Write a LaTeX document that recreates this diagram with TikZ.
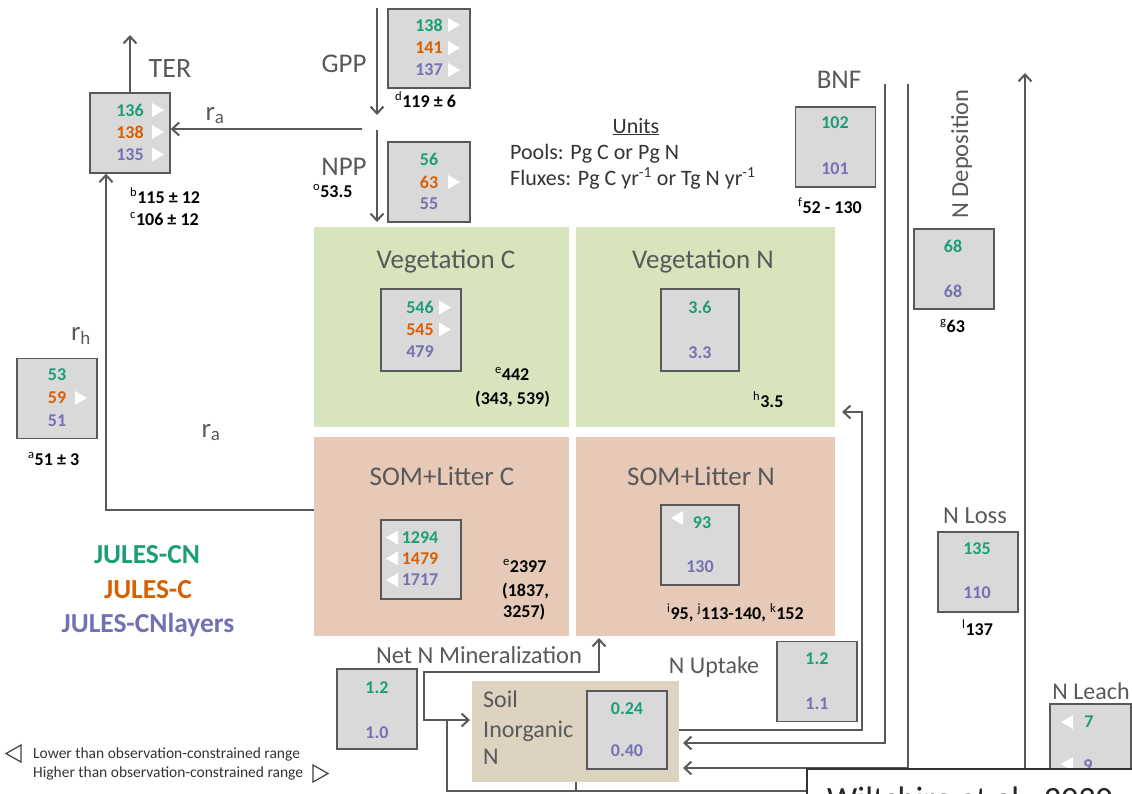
\documentclass[tikz,border=0pt]{standalone}
\usepackage{fontspec}
\setmainfont{Carlito}
\usetikzlibrary{arrows.meta}
\definecolor{cngreen}{HTML}{1B9E77}
\definecolor{cnorange}{HTML}{D95F02}
\definecolor{cnpurple}{HTML}{7570B3}
\definecolor{labgray}{HTML}{595959}
\definecolor{boxfill}{HTML}{D9D9D9}
\definecolor{boxline}{HTML}{595959}
\definecolor{vegfill}{HTML}{D8E4BC}
\definecolor{somfill}{HTML}{E6C9B7}
\definecolor{soilfill}{HTML}{DED2C1}
\newcommand\setfs[1]{\fontsize{#1}{#1}\selectfont}
% white markers: above / below the observation-constrained range
\newcommand\hightri[2]{\fill[white] (#1,#2) ++(0,-7) -- ++(12,7) -- ++(-12,7) -- cycle;}
\newcommand\lowtri[2]{\fill[white] (#1,#2) ++(0,-7) -- ++(-12,7) -- ++(12,7) -- cycle;}
\newcommand\sups[1]{\textsuperscript{\mdseries #1}}
\begin{document}
\begin{tikzpicture}[x=1pt,y=-1pt,
  valbox/.style={draw=boxline,fill=boxfill,line width=1.4pt,minimum width=80pt,minimum height=80pt,inner sep=0pt},
  panel/.style={inner sep=0pt,draw=none},
  num/.style={font=\setfs{18}\bfseries,inner sep=0pt},
  cn/.style={num,text=cngreen},
  co/.style={num,text=cnorange},
  cl/.style={num,text=cnpurple},
  lab/.style={text=labgray,inner sep=0pt,anchor=base},
  cite/.style={font=\setfs{18}\bfseries,text=black,inner sep=0pt,anchor=base west},
  keylab/.style={font=\setfs{27.5}\bfseries,inner sep=0pt,anchor=base},
  barb/.tip={Straight Barb[length=7pt,width=13pt]},
  flow/.style={draw=labgray,line width=2pt,-barb},
  pipe/.style={draw=labgray,line width=2pt},
]
\useasboundingbox (0,0) rectangle (1132,793);

% ---------- pools ----------
\node[panel,fill=vegfill,minimum width=255pt,minimum height=200pt] (vegC) at (441.5,327) {};
\node[panel,fill=vegfill,minimum width=259pt,minimum height=200pt] (vegN) at (705.5,327) {};
\node[panel,fill=somfill,minimum width=255pt,minimum height=199pt] (somC) at (441.5,536.5) {};
\node[panel,fill=somfill,minimum width=259pt,minimum height=199pt] (somN) at (705.5,536.5) {};
\node[panel,fill=soilfill,minimum width=207pt,minimum height=101pt] (soil) at (575.5,731.5) {};

% ---------- value boxes ----------
\node[valbox] (terbox) at (130,133) {};
\node[valbox,minimum width=82pt,minimum height=79pt] (gppbox) at (429,48.5) {};
\node[valbox,minimum width=82pt] (nppbox) at (429,182) {};
\node[valbox,minimum height=82pt] (vegCbox) at (421,330) {};
\node[valbox,minimum width=78pt,minimum height=82pt] (vegNbox) at (700,330) {};
\node[valbox,minimum height=79pt] (somCbox) at (421,559.5) {};
\node[valbox,minimum width=78pt] (somNbox) at (700,545) {};
\node[valbox] (rhbox) at (57,398.5) {};
\node[valbox] (minbox) at (377,709) {};
\node[valbox,minimum height=78pt] (soilbox) at (627,730) {};
\node[valbox] (uptbox) at (817,681.5) {};
\node[valbox] (bnfbox) at (835.5,147) {};
\node[valbox] (depbox) at (954,269) {};
\node[valbox] (lossbox) at (978,572) {};
\node[valbox,minimum width=81pt,minimum height=100pt] (leachbox) at (1090.5,754) {};

% ---------- carbon fluxes ----------
\coordinate (terTop) at (130,35);
\draw[flow] (terbox.north) -- (terTop);
\coordinate (raSplit) at (362,129);
\draw[flow] (raSplit) -- (raSplit -| terbox.east);
\coordinate (gppIn) at (377,8);
\coordinate (gppOut) at (377,115);
\draw[flow] (gppIn) -- (gppOut);
\coordinate (nppIn) at (377,130);
\coordinate (nppOut) at (377,222);
\draw[flow] (nppIn) -- (nppOut);
\coordinate (rhStart) at (somC.west |- 0,510);
\coordinate (rhCorner) at (106,510);
\draw[flow] (rhStart) -- (rhCorner) -- (rhCorner |- terbox.south);

% ---------- nitrogen fluxes ----------
\coordinate (minTip) at (599,638);
\coordinate (minTop) at (599,672);
\coordinate (minLeft) at (424,672);
\coordinate (minLow) at (424,720);
\coordinate (minIn) at (470,720);
\draw[pipe,barb-barb] (minTip) -- (minTop) -- (minLeft) -- (minLow) -- (minIn);
\coordinate (retTop) at (447,720);
\coordinate (retBot) at (447,791);
\coordinate (outEnd) at (807,791);
\draw[pipe] (retTop) -- (retBot) -- (outEnd);
\coordinate (soilDown) at (576,791);
\draw[pipe] (soilDown |- soil.south) -- (soilDown);

\coordinate (uptA) at (679,730);
\coordinate (uptB) at (862,730);
\coordinate (uptC) at (862,412);
\coordinate (uptTip) at (842,412);
\draw[flow] (uptA) -- (uptB) -- (uptC) -- (uptTip);

\coordinate (bnfTop) at (885,84);
\coordinate (bnfBend) at (885,743);
\coordinate (bnfTip) at (683,743);
\draw[flow] (bnfTop) -- (bnfBend) -- (bnfTip);

\coordinate (depTop) at (908,84);
\coordinate (depBend) at (908,768);
\coordinate (depTip) at (683,768);
\draw[flow] (depTop) -- (depBend) -- (depTip);

\coordinate (lossBot) at (1025,769);
\coordinate (lossTip) at (1025,73);
\draw[flow] (lossBot) -- (lossTip);

% ---------- values ----------
\node[cn] (ter1) at (130,110) {136};
\node[co] (ter2) at (130,132) {138};
\node[cl] (ter3) at (130,154.5) {135};
\hightri{152}{110}\hightri{152}{132}\hightri{152}{154.5}

\node[cn] (gpp1) at (429,25) {138};
\node[co] (gpp2) at (429,48) {141};
\node[cl] (gpp3) at (429,70) {137};
\hightri{448}{25}\hightri{448}{48}\hightri{448}{70}

\node[cn] (npp1) at (429,159) {56};
\node[co] (npp2) at (429,182) {63};
\node[cl] (npp3) at (429,204) {55};
\hightri{448}{182}

\node[cn] (vc1) at (420,307.5) {546};
\node[co] (vc2) at (420,329.5) {545};
\node[cl] (vc3) at (420,351.5) {479};
\hightri{439}{307.5}\hightri{439}{329.5}

\node[cn] (vn1) at (700,307.5) {3.6};
\node[cl] (vn2) at (700,352.5) {3.3};

\node[cn] (sc1) at (420,537.5) {1294};
\node[co] (sc2) at (420,558.5) {1479};
\node[cl] (sc3) at (420,580) {1717};
\lowtri{398}{537.5}\lowtri{398}{558.5}\lowtri{398}{580}

\node[cn] (sn1) at (702,522.5) {93};
\node[cl] (sn2) at (700,566.5) {130};
\lowtri{683}{518}

\node[cn] (rh1) at (57,375) {53};
\node[co] (rh2) at (57,398) {59};
\node[cl] (rh3) at (57,421) {51};
\hightri{75}{398}

\node[cn] (mn1) at (377,688) {1.2};
\node[cl] (mn2) at (377,732.5) {1.0};

\node[cn] (si1) at (627,708.5) {0.24};
\node[cl] (si2) at (627,751) {0.40};

\node[cn] (up1) at (817,658.5) {1.2};
\node[cl] (up2) at (817,704) {1.1};

\node[cn] (bn1) at (835,123) {102};
\node[cl] (bn2) at (835,168.5) {101};

\node[cn] (dp1) at (953,246.5) {68};
\node[cl] (dp2) at (953,291.5) {68};

\node[cn] (ls1) at (977,548.5) {135};
\node[cl] (ls2) at (977,593) {110};

\node[cn] (lc1) at (1089,722) {7};
\node[cl] (lc2) at (1088,765.5) {9};
\lowtri{1073}{722}\lowtri{1073}{764}

% ---------- flux and pool labels ----------
\node[lab,font=\setfs{28}] (terlab) at (170,77) {TER};
\node[lab,font=\setfs{27}] (gpplab) at (344,72) {GPP};
\node[lab,font=\setfs{27}] (npplab) at (344,175) {NPP};
\node[lab,font=\setfs{27}] (ralab) at (215,120) {r\textsubscript{a}};
\node[lab,font=\setfs{27}] (rhlab) at (81,340) {r\textsubscript{h}};
\node[lab,font=\setfs{27}] (ralab2) at (211,437) {r\textsubscript{a}};
\node[lab,font=\setfs{27}] (bnflab) at (839,88) {BNF};
\node[lab,font=\setfs{24.5},rotate=90] (deplab) at (968,154) {N Deposition};
\node[lab,font=\setfs{27}] (vclab) at (446,268) {Vegetation C};
\node[lab,font=\setfs{27}] (vnlab) at (703,268) {Vegetation N};
\node[lab,font=\setfs{27}] (sclab) at (442,485) {SOM+Litter C};
\node[lab,font=\setfs{27}] (snlab) at (701,485) {SOM+Litter N};
\node[lab,font=\setfs{24.5}] (minlab) at (479,663) {Net N Mineralization};
\node[lab,font=\setfs{24}] (uptlab) at (714,673) {N Uptake};
\node[lab,font=\setfs{24.5}] (losslab) at (975,523) {N Loss};
\node[lab,font=\setfs{24}] (leachlab) at (1091,699) {N Leach};
\node[lab,font=\setfs{24},anchor=base west] (soil1) at (483,707) {Soil};
\node[lab,font=\setfs{24},anchor=base west] (soil2) at (483,737) {Inorganic};
\node[lab,font=\setfs{24},anchor=base west] (soil3) at (483,764) {N};

% ---------- units ----------
\node[font=\setfs{22},text=black!80,inner sep=0pt,anchor=base] (units) at (636,133) {\underline{Units}};
\node[font=\setfs{22},text=black!80,inner sep=0pt,anchor=base west] (pools) at (510,159) {Pools: Pg C or Pg N};
\node[font=\setfs{22},text=black!80,inner sep=0pt,anchor=base west] (fluxes) at (510,185) {Fluxes: Pg C yr\textsuperscript{-1} or Tg N yr\textsuperscript{-1}};

% ---------- observational estimates ----------
\node[cite] (obsb) at (130,203) {\sups{b}115 ± 12};
\node[cite] (obsc) at (130,225) {\sups{c}106 ± 12};
\node[cite] (obsd) at (395,107) {\sups{d}119 ± 6};
\node[cite] (obso) at (313,197) {\sups{o}53.5};
\node[cite] (obsf) at (798,213) {\sups{f}52 - 130};
\node[cite] (obsg) at (940,332) {\sups{g}63};
\node[cite] (obse1) at (495,380) {\sups{e}442};
\node[cite] (obse1r) at (475,404) {(343, 539)};
\node[cite] (obsh) at (753,407) {\sups{h}3.5};
\node[cite] (obsa) at (28,465) {\sups{a}51 ± 3};
\node[cite] (obse2) at (503,572) {\sups{e}2397};
\node[cite] (obse2a) at (502,596) {(1837,};
\node[cite] (obse2b) at (503,617) {3257)};
\node[cite] (obsijk) at (667,619) {\sups{i}95, \sups{j}113-140, \sups{k}152};
\node[cite] (obsl) at (962,635) {\sups{l}137};

% ---------- model key ----------
\node[keylab,text=cngreen] (keycn) at (147,563) {JULES-CN};
\node[keylab,text=cnorange] (keyc) at (148,598) {JULES-C};
\node[keylab,text=cnpurple] (keycnl) at (148,632) {JULES-CNlayers};

% ---------- marker key ----------
\draw[black!75,line width=1.2pt,line join=miter] (21,745) -- (6,753.5) -- (21,762) -- cycle;
\node[font=\setfs{15.5},text=black!80,inner sep=0pt,anchor=base west] (keylow) at (33,758) {Lower than observation-constrained range};
\node[font=\setfs{15.5},text=black!80,inner sep=0pt,anchor=base west] (keyhigh) at (33,777) {Higher than observation-constrained range};
\draw[black!75,line width=1.2pt,line join=miter] (313,765) -- (328,773.5) -- (313,782) -- cycle;

% ---------- source panel ----------
\fill[white] (807,769) rectangle (1140,800);
\draw[black!80,line width=1.6pt] (807,800) -- (807,769) -- (1140,769);
\node[font=\setfs{34},text=black!85,inner sep=0pt,anchor=base west] (source) at (827,810) {Wiltshire et al., 2020};
\end{tikzpicture}
\end{document}
